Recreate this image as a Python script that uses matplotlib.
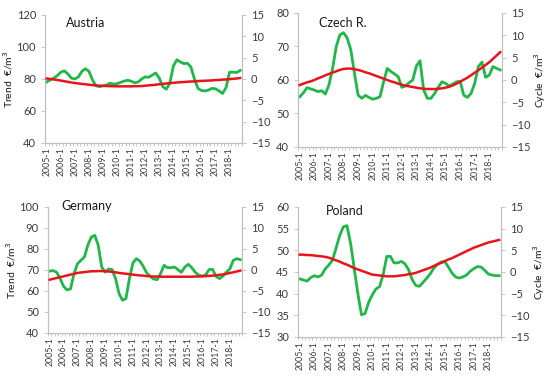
import matplotlib
matplotlib.use('Agg')
import matplotlib.pyplot as plt
import numpy as np

plt.rcParams['font.family'] = ['Lato', 'DejaVu Sans']

# quarterly, 2005-1 .. 2018-4
years = list(range(2005, 2019))
tick_labels = [f'{y}-1' for y in years]

austria_trend = [80.3, 80.0, 79.7, 79.4, 79.0, 78.6, 78.2, 77.8, 77.5, 77.2, 76.9, 76.7,
                 76.4, 76.2, 76.0, 75.8, 75.7, 75.6, 75.5, 75.5, 75.4, 75.4, 75.4, 75.4,
                 75.4, 75.5, 75.5, 75.6, 75.8, 76.0, 76.2, 76.4, 76.7, 76.9, 77.2, 77.4,
                 77.6, 77.8, 78.0, 78.1, 78.3, 78.4, 78.5, 78.7, 78.8, 78.9, 79.0, 79.1,
                 79.3, 79.4, 79.6, 79.7, 79.9, 80.1, 80.3, 80.6]
austria_cycle = [-0.7, -0.2, 0.2, 0.8, 1.6, 1.9, 1.2, 0.2, 0.0, 0.5, 1.8, 2.4,
                 1.8, -0.2, -1.6, -1.8, -1.6, -1.4, -1.0, -1.2, -1.1, -0.8, -0.5, -0.3,
                 -0.5, -0.9, -0.7, 0.0, 0.5, 0.4, 0.9, 1.4, 0.2, -1.8, -2.4, -1.0,
                 3.0, 4.5, 4.0, 3.6, 3.7, 2.8, 0.0, -2.2, -2.7, -2.8, -2.6, -2.2,
                 -2.3, -2.8, -3.4, -2.0, 1.6, 1.6, 1.5, 2.0]

czech_trend = [58.5, 58.9, 59.3, 59.6, 60.0, 60.5, 60.9, 61.4, 61.8, 62.2, 62.6, 63.0,
               63.3, 63.4, 63.4, 63.2, 63.0, 62.7, 62.3, 62.0, 61.6, 61.2, 60.8, 60.4,
               60.0, 59.6, 59.3, 58.9, 58.6, 58.3, 58.1, 57.9, 57.7, 57.5, 57.4, 57.3,
               57.3, 57.3, 57.4, 57.5, 57.7, 58.0, 58.4, 58.9, 59.5, 60.1, 60.7, 61.4,
               62.2, 62.9, 63.7, 64.5, 65.3, 66.3, 67.3, 68.3]
czech_cycle = [-3.75, -2.85, -1.7, -2.0, -2.25, -2.6, -2.4, -3.15, -1.1, 2.6, 7.5, 10.1,
               10.6, 9.4, 6.75, 1.5, -3.4, -4.1, -3.45, -3.9, -4.3, -4.1, -3.75, -0.4,
               2.6, 1.9, 1.35, 0.75, -1.65, -1.35, -0.6, 0.0, 3.15, 4.3, -2.25, -4.1,
               -4.1, -3.0, -1.65, -0.4, -0.75, -1.35, -0.9, -0.4, -0.3, -3.4, -3.9, -3.0,
               -0.75, 3.0, 4.0, 0.6, 1.1, 3.0, 2.6, 2.25]

germany_trend = [65.4, 65.8, 66.2, 66.6, 67.0, 67.4, 67.8, 68.2, 68.6, 68.8, 69.0, 69.2,
                 69.4, 69.4, 69.5, 69.5, 69.4, 69.3, 69.1, 68.9, 68.6, 68.4, 68.2, 68.0,
                 67.8, 67.6, 67.4, 67.3, 67.1, 67.0, 66.9, 66.9, 66.8, 66.8, 66.8, 66.8,
                 66.8, 66.8, 66.8, 66.8, 66.8, 66.8, 66.9, 66.9, 67.0, 67.1, 67.2, 67.3,
                 67.5, 67.7, 67.9, 68.2, 68.6, 68.9, 69.3, 69.7]
germany_cycle = [-0.25, -0.15, -0.55, -2.05, -3.9, -4.75, -4.5, -0.9, 1.5, 2.3, 3.1, 5.9,
                 7.85, 8.25, 5.9, 0.7, -0.5, 0.25, 0.1, -2.05, -5.6, -7.2, -6.8, -2.05,
                 1.65, 2.7, 2.15, 0.85, -0.7, -1.5, -2.15, -2.3, -0.85, 1.1, 0.55, 0.55,
                 0.7, 0.1, -0.55, 0.7, 1.35, 0.55, -0.55, -1.2, -1.45, -1.2, 0.1, 0.15,
                 -1.5, -2.05, -1.45, -0.5, 0.3, 2.3, 2.7, 2.45]

poland_trend = [49.0, 49.0, 48.9, 48.9, 48.8, 48.7, 48.6, 48.5, 48.3, 48.0, 47.7, 47.4,
                47.0, 46.7, 46.3, 45.9, 45.6, 45.3, 45.0, 44.7, 44.4, 44.3, 44.2, 44.1,
                44.0, 44.0, 44.0, 44.1, 44.2, 44.3, 44.5, 44.6, 44.8, 45.1, 45.4, 45.7,
                46.0, 46.4, 46.8, 47.1, 47.5, 47.9, 48.2, 48.6, 49.0, 49.4, 49.8, 50.2,
                50.6, 50.9, 51.2, 51.5, 51.8, 52.0, 52.2, 52.4]
poland_cycle = [-1.6, -1.85, -2.1, -1.3, -0.85, -1.15, -0.75, 0.7, 1.6, 2.7, 5.5, 8.4,
                10.4, 10.7, 6.7, 0.9, -4.85, -9.85, -9.6, -7.0, -5.3, -3.9, -3.4, -0.6,
                3.6, 3.6, 2.1, 2.1, 2.45, 1.9, 0.55, -1.75, -3.1, -3.3, -2.4, -1.45,
                -0.4, 0.9, 1.75, 2.3, 2.4, 1.15, -0.25, -1.15, -1.4, -1.15, -0.7, 0.15,
                0.75, 1.25, 1.15, 0.4, -0.45, -0.7, -0.85, -0.85]

panels = [
    # name, trend, cycle, trend range, trend step, axes rect, title pos (px), left label, right label
    ('Austria', austria_trend, austria_cycle, (40, 120), 20,
     [0.0818, 0.6247, 0.358, 0.336], (66, 23), True, False),
    ('Czech R.', czech_trend, czech_cycle, (40, 80), 10,
     [0.5418, 0.6142, 0.371, 0.3517], (319, 23), False, True),
    ('Germany', germany_trend, germany_cycle, (40, 100), 10,
     [0.0873, 0.126, 0.3527, 0.3307], (61, 206), True, False),
    ('Poland', poland_trend, poland_cycle, (30, 60), 5,
     [0.5418, 0.1155, 0.369, 0.3412], (326, 211), False, True),
]

GREEN = '#1fb848'
RED = '#e8141b'
AXIS = '#bfbfbf'
TXT = '#3c3c3c'

fig = plt.figure(figsize=(5.5, 3.81), dpi=100)
fig.patch.set_facecolor('white')

for name, trend, cycle, trange, tstep, rect, tpos, lab_left, lab_right in panels:
    x = np.arange(len(trend))
    ax = fig.add_axes(rect)
    ax2 = ax.twinx()
    ax2.plot(x, cycle, color=GREEN, lw=2.0, zorder=3)
    ax.plot(x, trend, color=RED, lw=1.8, zorder=4)
    ax.set_zorder(ax2.get_zorder() + 1)
    ax.patch.set_visible(False)

    ax.set_xlim(-0.5, len(trend) - 0.5)
    ax.set_ylim(*trange)
    ax.set_yticks(np.arange(trange[0], trange[1] + 0.1, tstep))
    ax2.set_ylim(-15, 15)
    ax2.set_yticks(range(-15, 16, 5))

    ax.set_xticks(np.arange(0, len(trend), 4))
    ax.set_xticklabels(tick_labels, rotation=90, fontsize=6.3, color=TXT)
    ax.set_xticks(np.arange(-0.5, len(trend), 1), minor=True)
    ax.tick_params(axis='x', which='major', length=0, pad=3)
    ax.tick_params(axis='x', which='minor', length=2.5, color=AXIS, width=0.6)
    ax.tick_params(axis='y', labelsize=8, colors=TXT, length=3, width=0.6)
    ax.tick_params(axis='y', color=AXIS)
    ax2.tick_params(axis='y', labelsize=8, colors=TXT, length=3, width=0.6)
    ax2.tick_params(axis='y', color=AXIS)

    for a in (ax, ax2):
        a.spines['top'].set_visible(False)
        for s in ('left', 'right', 'bottom'):
            a.spines[s].set_color(AXIS)
            a.spines[s].set_linewidth(0.8)

    fig.text(tpos[0] / 550, 1 - tpos[1] / 381, name, fontsize=9, color='#1a1a1a',
             va='center', ha='left')
    if lab_left:
        ax.set_ylabel('Trend  €/m$^3$', fontsize=7.5, color='#1a1a1a', labelpad=1)
    if lab_right:
        ax2.set_ylabel('Cycle  €/m$^3$', fontsize=7.5, color='#1a1a1a', labelpad=1)

fig.savefig('out.png', dpi=100, facecolor='white')
